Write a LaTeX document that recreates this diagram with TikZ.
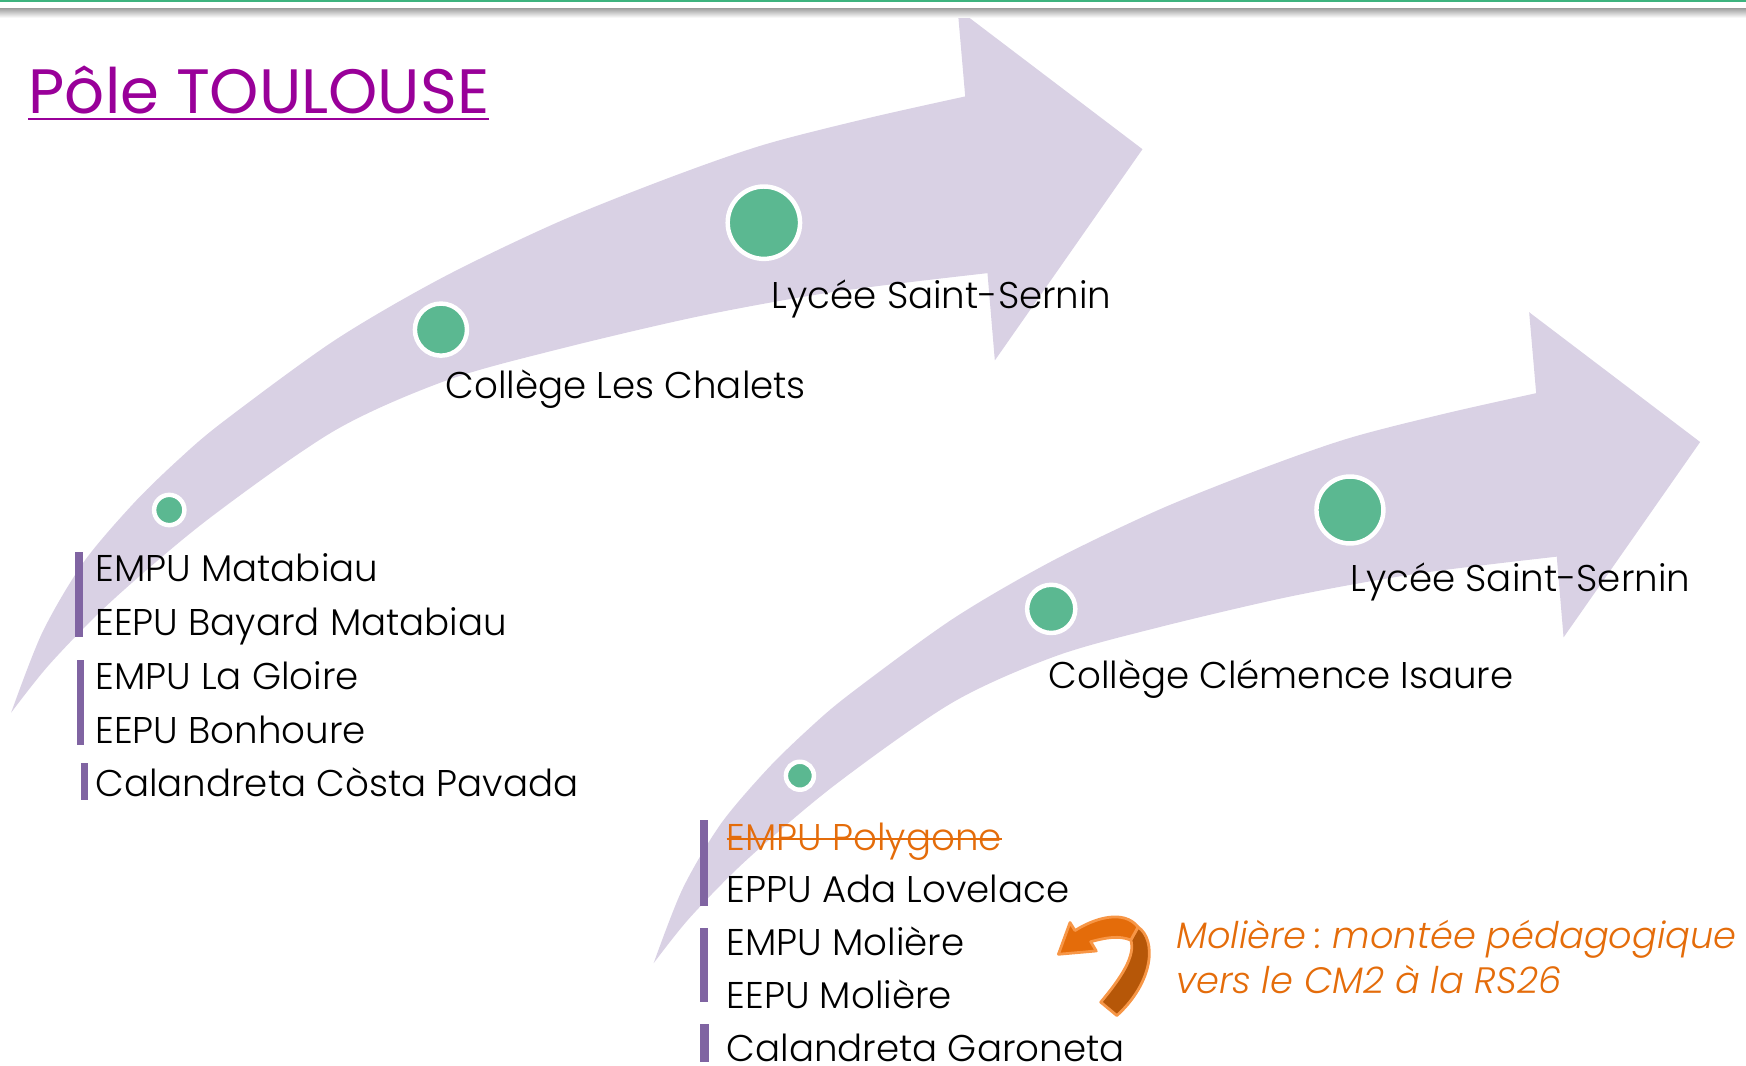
\documentclass[tikz,border=0pt]{standalone}
\usepackage{fontspec}
\IfFontExistsTF{Poppins Light}
  {\setmainfont{Poppins Light}}
  {\setmainfont{Poppins}}
\IfFontExistsTF{Poppins Light Italic}
  {\newfontfamily\notefont{Poppins Light Italic}}
  {\newfontfamily\notefont{Poppins Italic}}
\newfontfamily\titlefont{Poppins}
\usetikzlibrary{positioning}
\definecolor{arrowlilac}{HTML}{D9D1E4}
\definecolor{dotgreen}{HTML}{5BB891}
\definecolor{barpurple}{HTML}{8064A2}
\definecolor{titlepurple}{HTML}{990099}
\definecolor{topgreen}{HTML}{3DB37E}
\definecolor{noteorange}{HTML}{E46C0A}
\definecolor{arrowedge}{HTML}{F79646}
\definecolor{arrowback}{HTML}{B65708}
% one lilac swoosh with its three dots, tail at (10,640)
\newcommand{\swoosh}{%
  \fill[arrowlilac] plot[smooth] coordinates {(10,640) (38,568) (75,505) (120,452) (160,413) (200,379) (300,306) (396,250) (500,200) (600,160) (686,130) (780,106) (866.8,86.6)}
    -- (860,8) -- (1026,134) -- (893.4,323.7)
    -- plot[smooth] coordinates {(886.8,245.3) (750,262) (628,284) (500,314) (400,342) (300,387) (186,467) (100,540) (45,596) (10,640)} -- cycle;
  \filldraw[dot] (152,458) circle (13.6);
  \filldraw[dot] (396,296) circle (23.4);
  \filldraw[dot] (686,200) circle (32.5);
}

\begin{document}
\begin{tikzpicture}[x=1pt,y=-1pt,
  dot/.style={fill=dotgreen,draw=white,line width=4pt},
  item/.style={anchor=base west,inner sep=0pt,font=\fontsize{33.4}{40}\selectfont},
  note/.style={anchor=base west,inner sep=0pt,text=noteorange,font=\notefont\fontsize{33}{40}\selectfont},
  bar/.style={fill=barpurple}]
\useasboundingbox (0,0) rectangle (1568,957.3);

% swooshes
\begin{scope}
\swoosh
\end{scope}
\begin{scope}[shift={(587,865)},scale=0.925,shift={(-10,-640)}]
\swoosh
\end{scope}

% top rule
\fill[topgreen] (0,0) rectangle (1568,1.8);
\shade[top color=black!35,bottom color=white] (0,8) rectangle (1568,16);

% title
\node[anchor=base west,inner sep=0pt,text=titlepurple,font=\titlefont\fontsize{56.3}{64}\selectfont] (ttl) at (25.5,102) {Pôle TOULOUSE};
\draw[titlepurple,line width=1.8pt] ([yshift=-4.5pt]ttl.base west) -- ([yshift=-4.5pt]ttl.base east);

% stages
\node[item] (lyc1) at (693,277) {Lycée Saint-Sernin};
\node[item] (col1) at (400,358) {Collège Les Chalets};
\node[item] (lyc2) at (1212.6,531) {Lycée Saint-Sernin};
\node[item] (col2) at (941.4,618) {Collège Clémence Isaure};

% schools, first pole
\fill[bar] (67.3,495.4) rectangle (74.1,572.4);
\fill[bar] (69,592.7) rectangle (75.8,669.3);
\fill[bar] (72.4,685.5) rectangle (79.3,718.5);
\foreach \name [count=\i from 0] in {EMPU Matabiau,EEPU Bayard Matabiau,EMPU La Gloire,EEPU Bonhoure,Calandreta Còsta Pavada}
  \node[item] (a-\i) at (85.5,{522.4+48.3*\i}) {\name};

% schools, second pole
\fill[bar] (629,736.4) rectangle (635.5,813.6);
\fill[bar] (629,833.1) rectangle (635.5,900.2);
\fill[bar] (629,920) rectangle (636.3,953.5);
\foreach \name/\col [count=\i from 0] in {EMPU Polygone/noteorange,EPPU Ada Lovelace/black,EMPU Molière/black,EEPU Molière/black,Calandreta Garoneta/black}
  \node[item,text=\col] (b-\i) at (652.5,{763.4+47.4*\i}) {\name};
\draw[noteorange,line width=1.8pt] ([yshift=10pt]b-0.base west) -- ([yshift=10pt]b-0.base east);

% curved arrow
\filldraw[fill=arrowback,draw=arrowedge,line width=2.5pt,line join=round]
  (1022,832.5) .. controls (1039,844) and (1036,882) .. (1003,912)
  -- (988.5,900) .. controls (1007,878) and (1020,858) .. (1015.5,844.2) -- cycle;
\filldraw[fill=noteorange,draw=arrowedge,line width=2.5pt,line join=round]
  (950.5,857) -- (960.9,828.5) -- (965.4,835.7)
  .. controls (982,825) and (1009,816) .. (1022,832.5)
  -- (1015.5,844.2) .. controls (1005,840) and (993.9,841.8) .. (979.5,845.7)
  -- (984.5,854) -- cycle;

% note
\node[note] (mol1) at (1056,852) {Molière\kern-2pt\ :\ montée pédagogique};
\node[note] (mol2) at (1056,892) {vers le CM2 à la RS26};
\end{tikzpicture}
\end{document}
